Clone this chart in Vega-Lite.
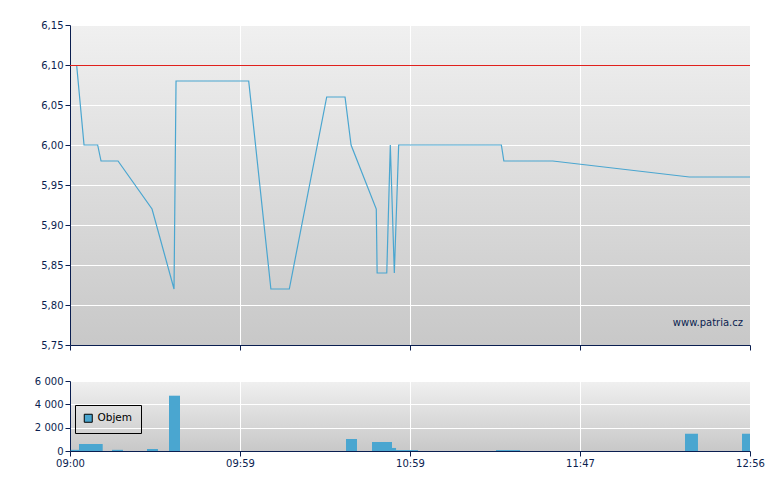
{
  "$schema": "https://vega.github.io/schema/vega-lite/v6.json",
  "padding": {"left": 34, "top": 20, "right": 30, "bottom": 10},
  "background": "white",
  "config": {
    "font": "DejaVu Sans",
    "locale": {"number": {"decimal": ",", "thousands": " ", "grouping": [3], "currency": ["", " Kč"]}},
    "view": {"stroke": null, "fill": {"gradient": "linear", "x1": 0, "y1": 0, "x2": 0, "y2": 1, "stops": [{"offset": 0, "color": "#f0f0f0"}, {"offset": 1, "color": "#c8c8c8"}]}},
    "axis": {"domainColor": "#0a1e50", "tickColor": "#0a1e50", "labelColor": "#0a1e50", "labelFontSize": 10, "gridColor": "#ffffff", "gridOpacity": 1, "gridWidth": 1, "tickSize": 5, "labelPadding": 2, "title": null, "domainWidth": 1, "labelOverlap": false}
  },
  "datasets": {
    "price": [
      {"minute": 2.3, "price": 6.10},
      {"minute": 4.87, "price": 6.00},
      {"minute": 9.6, "price": 6.00},
      {"minute": 10.77, "price": 5.98},
      {"minute": 16.67, "price": 5.98},
      {"minute": 28.47, "price": 5.92},
      {"minute": 36.1, "price": 5.82},
      {"minute": 36.8, "price": 6.08},
      {"minute": 62.07, "price": 6.08},
      {"minute": 69.9, "price": 5.82},
      {"minute": 76.4, "price": 5.82},
      {"minute": 89.6, "price": 6.06},
      {"minute": 96.07, "price": 6.06},
      {"minute": 98.2, "price": 6.00},
      {"minute": 107.1, "price": 5.92},
      {"minute": 107.4, "price": 5.84},
      {"minute": 110.8, "price": 5.84},
      {"minute": 112.05, "price": 6.00},
      {"minute": 113.47, "price": 5.84},
      {"minute": 115.0, "price": 6.00},
      {"minute": 144.8, "price": 6.00},
      {"minute": 145.5, "price": 5.98},
      {"minute": 159.3, "price": 5.98},
      {"minute": 211.4, "price": 5.96},
      {"minute": 236, "price": 5.96}
    ],
    "volume": [
      {"start": 0.25, "end": 3.12, "volume": 100},
      {"start": 3.12, "end": 11.35, "volume": 600},
      {"start": 14.58, "end": 18.4, "volume": 100},
      {"start": 26.72, "end": 30.53, "volume": 170},
      {"start": 34.35, "end": 38.18, "volume": 4740},
      {"start": 96.42, "end": 100.3, "volume": 1030},
      {"start": 105.58, "end": 112.65, "volume": 770},
      {"start": 112.65, "end": 114.07, "volume": 260},
      {"start": 114.07, "end": 121.25, "volume": 80},
      {"start": 143.28, "end": 150.07, "volume": 80},
      {"start": 209.62, "end": 214.88, "volume": 1480},
      {"start": 232.75, "end": 236, "volume": 1480}
    ]
  },
  "spacing": 25,
  "vconcat": [
    {
      "width": 680,
      "height": 320,
      "layer": [
        {
          "data": {"name": "price"},
          "mark": {"type": "line", "color": "#4aa6d0", "strokeWidth": 1.2},
          "encoding": {
            "x": {
              "field": "minute", "type": "quantitative",
              "scale": {"domain": [0, 59, 119, 167, 236], "range": [0, 170, 340, 510, 680], "nice": false, "zero": false},
              "axis": {"values": [0, 59, 119, 167, 236], "tickCount": 20, "labels": false, "grid": true}
            },
            "y": {
              "field": "price", "type": "quantitative",
              "scale": {"domain": [5.75, 6.15], "zero": false, "nice": false},
              "axis": {"values": [5.75, 5.8, 5.85, 5.9, 5.95, 6.0, 6.05, 6.1, 6.15], "tickCount": 20, "grid": true, "labelOverlap": false, "format": ".2f"}
            }
          }
        },
        {
          "data": {"values": [{"ref": 6.10}]},
          "mark": {"type": "rule", "color": "#e0201c", "strokeWidth": 1, "yOffset": 0.5},
          "encoding": {"y": {"field": "ref", "type": "quantitative"}}
        },
        {
          "data": {"values": [{"label": "www.patria.cz"}]},
          "mark": {"type": "text", "align": "right", "baseline": "middle", "dx": -7, "fontSize": 10, "color": "#0a1e50"},
          "encoding": {
            "x": {"datum": 236, "type": "quantitative"},
            "y": {"datum": 5.7775, "type": "quantitative"},
            "text": {"field": "label"}
          }
        }
      ]
    },
    {
      "width": 680,
      "height": 70,
      "data": {"name": "volume"},
      "mark": {"type": "rect"},
      "encoding": {
        "x": {
          "field": "start", "type": "quantitative",
          "scale": {"domain": [0, 59, 119, 167, 236], "range": [0, 170, 340, 510, 680], "nice": false, "zero": false},
          "axis": {"values": [0, 59, 119, 167, 236], "tickCount": 20, "grid": true, "labelFlush": false,
            "labelExpr": "(floor(datum.value/60)+9 < 10 ? '0' : '') + (floor(datum.value/60)+9) + ':' + (datum.value%60 < 10 ? '0' : '') + (datum.value%60)"}
        },
        "x2": {"field": "end"},
        "y": {
          "field": "volume", "type": "quantitative",
          "scale": {"domain": [0, 6000], "nice": false},
          "axis": {"values": [0, 2000, 4000, 6000], "tickCount": 20, "grid": true, "labelOverlap": false, "format": ",d"}
        },
        "y2": {"datum": 0},
        "color": {
          "datum": "Objem", "type": "nominal",
          "scale": {"range": ["#4aa6d0"]},
          "legend": {"title": null, "orient": "none", "legendX": 5, "legendY": 380, "padding": 8, "strokeColor": "#000000", "symbolType": "square", "symbolSize": 64, "symbolStrokeColor": "#000000", "symbolStrokeWidth": 1, "labelFontSize": 10.5, "labelColor": "#000000", "labelOffset": 4, "cornerRadius": 0}
        }
      }
    }
  ]
}
